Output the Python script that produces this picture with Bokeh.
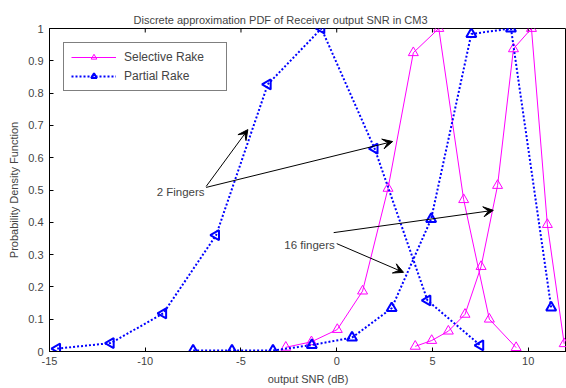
import math
from bokeh.plotting import figure
from bokeh.models import Range1d, Legend, LegendItem, Arrow, VeeHead, Label, FixedTicker
from bokeh.embed import file_html
from bokeh.resources import INLINE

# ---- data ----
sel2_x = [-2.66, -1.32, 0.03, 1.35, 2.68, 4.0, 5.33, 6.63, 7.97, 9.37]
sel2_y = [0.013, 0.03, 0.068, 0.187, 0.505, 0.925, 1.0, 0.47, 0.10, 0.012]

sel16_x = [4.1, 4.96, 5.83, 6.7, 7.54, 8.4, 9.23, 10.17, 11.0, 11.88]
sel16_y = [0.016, 0.034, 0.063, 0.115, 0.263, 0.514, 0.937, 1.0, 0.393, 0.024]

par2_x = [-14.6, -11.8, -9.06, -6.3, -3.6, -0.8, 1.98, 4.74, 7.5]
par2_y = [0.009, 0.026, 0.118, 0.36, 0.827, 1.0, 0.628, 0.158, 0.019]

par16_x = [-7.5, -5.47, -3.33, -1.3, 0.8, 2.87, 4.93, 7.03, 9.1, 11.2]
par16_y = [0.003, 0.003, 0.003, 0.02, 0.043, 0.134, 0.41, 0.983, 1.0, 0.136]

x_ticks = [-15, -10, -5, 0, 5, 10]
x_tick_labels = ["-15", "-10", "-5", "0", "5", "10"]
y_ticks = [0, 0.1, 0.2, 0.3, 0.4, 0.5, 0.6, 0.7, 0.8, 0.9, 1]
y_tick_labels = ["0", "0.1", "0.2", "0.3", "0.4", "0.5", "0.6", "0.7", "0.8", "0.9", "1"]

title_text = "Discrete approximation PDF of Receiver output SNR in CM3"
x_label = "output SNR (dB)"
y_label = "Probability Density Function"
series_names = ["Selective Rake", "Partial Rake"]

# annotations (text, x, y) and arrows (x_start, y_start, x_end, y_end)
ann_texts = [("2 Fingers", -6.9, 0.495), ("16 fingers", -0.1, 0.331)]
ann_arrows = [(-6.82, 0.511, -4.64, 0.687),
              (-6.82, 0.508, 2.92, 0.650),
              (-0.16, 0.368, 8.18, 0.437),
              (0.0, 0.334, 3.49, 0.245)]

FONT = "Liberation Sans"
MAG = "#FF00FF"
BLU = "#0000FF"

W, H = 566, 388
BL, BT, BB = 49, 28, 37
FRAME_H = H - BT - BB
TICK_PX = 4

p = figure(width=W, height=H, output_backend="svg", toolbar_location=None,
           x_range=Range1d(-15, 12), y_range=Range1d(0, 1),
           min_border_left=BL, min_border_right=0, min_border_top=BT, min_border_bottom=BB)

bottom_axis = p.xaxis[0]
left_axis = p.yaxis[0]

p.title.text = title_text
p.title.text_font = FONT
p.title.text_font_size = "11px"
p.title.text_font_style = "normal"
p.title.align = "left"
p.title.offset = 84
p.title.standoff = 6

p.xgrid.visible = False
p.ygrid.visible = False
p.outline_line_color = "black"
p.outline_line_width = 1
p.background_fill_color = "white"
p.border_fill_color = "white"

for ax in (bottom_axis, left_axis):
    ax.axis_line_color = "black"
    ax.major_tick_in = TICK_PX
    ax.major_tick_out = 0
    ax.minor_tick_in = 0
    ax.minor_tick_out = 0
    ax.major_label_text_font = FONT
    ax.major_label_text_font_size = "11px"
    ax.axis_label_text_font = FONT
    ax.axis_label_text_font_size = "11px"
    ax.axis_label_text_font_style = "normal"

bottom_axis.ticker = FixedTicker(ticks=x_ticks)
bottom_axis.major_label_overrides = dict(zip(x_ticks, x_tick_labels))
left_axis.ticker = FixedTicker(ticks=y_ticks)
left_axis.major_label_overrides = dict(zip(y_ticks, y_tick_labels))
bottom_axis.axis_label = x_label
left_axis.axis_label = y_label
bottom_axis.major_label_standoff = 5
bottom_axis.axis_label_standoff = 5
left_axis.major_label_standoff = 6
left_axis.axis_label_standoff = 5

# inward ticks on the top edge of the box, at the x tick positions
tick_len = TICK_PX / FRAME_H
p.segment(x0=x_ticks, y0=[1] * len(x_ticks), x1=x_ticks, y1=[1 - tick_len] * len(x_ticks),
          line_color="black", line_width=1)

# Selective Rake
l1 = p.line(sel2_x, sel2_y, line_color=MAG, line_width=1)
m1 = p.scatter(sel2_x, sel2_y, marker="triangle", size=10, line_color=MAG, fill_color=None, line_width=1)
p.line(sel16_x, sel16_y, line_color=MAG, line_width=1)
p.scatter(sel16_x, sel16_y, marker="triangle", size=10, line_color=MAG, fill_color=None, line_width=1)

# Partial Rake
l2 = p.line(par2_x, par2_y, line_color=BLU, line_width=2, line_dash="2 2")
m2 = p.scatter(par2_x, par2_y, marker="triangle", angle=math.pi / 2, size=10,
               line_color=BLU, fill_color=None, line_width=2)
p.line(par16_x, par16_y, line_color=BLU, line_width=2, line_dash="2 2")
p.scatter(par16_x, par16_y, marker="triangle", size=10, line_color=BLU, fill_color=None, line_width=2)

# annotations
for (x0, y0, x1, y1) in ann_arrows:
    p.add_layout(Arrow(x_start=x0, y_start=y0, x_end=x1, y_end=y1, line_color="black", line_width=1,
                       end=VeeHead(size=10, fill_color="black", line_color="black", line_width=1)))
for (t, x, y) in ann_texts:
    p.add_layout(Label(x=x, y=y, text=t, text_font=FONT, text_font_size="11.5px",
                       text_align="right", text_baseline="middle"))

legend = Legend(items=[LegendItem(label=series_names[0], renderers=[l1, m1]),
                       LegendItem(label=series_names[1], renderers=[l2, m2])])
legend.label_text_font = FONT
legend.label_text_font_size = "12px"
legend.glyph_width = 45
legend.glyph_height = 14
legend.label_height = 14
legend.label_width = 95
legend.spacing = 5
legend.padding = 7
legend.label_standoff = 8
legend.border_line_color = "black"
legend.border_line_width = 1
legend.background_fill_alpha = 1
legend.location = "top_left"
legend.margin = 14
p.add_layout(legend, "center")

open("out.html", "w").write(file_html(p, INLINE))
